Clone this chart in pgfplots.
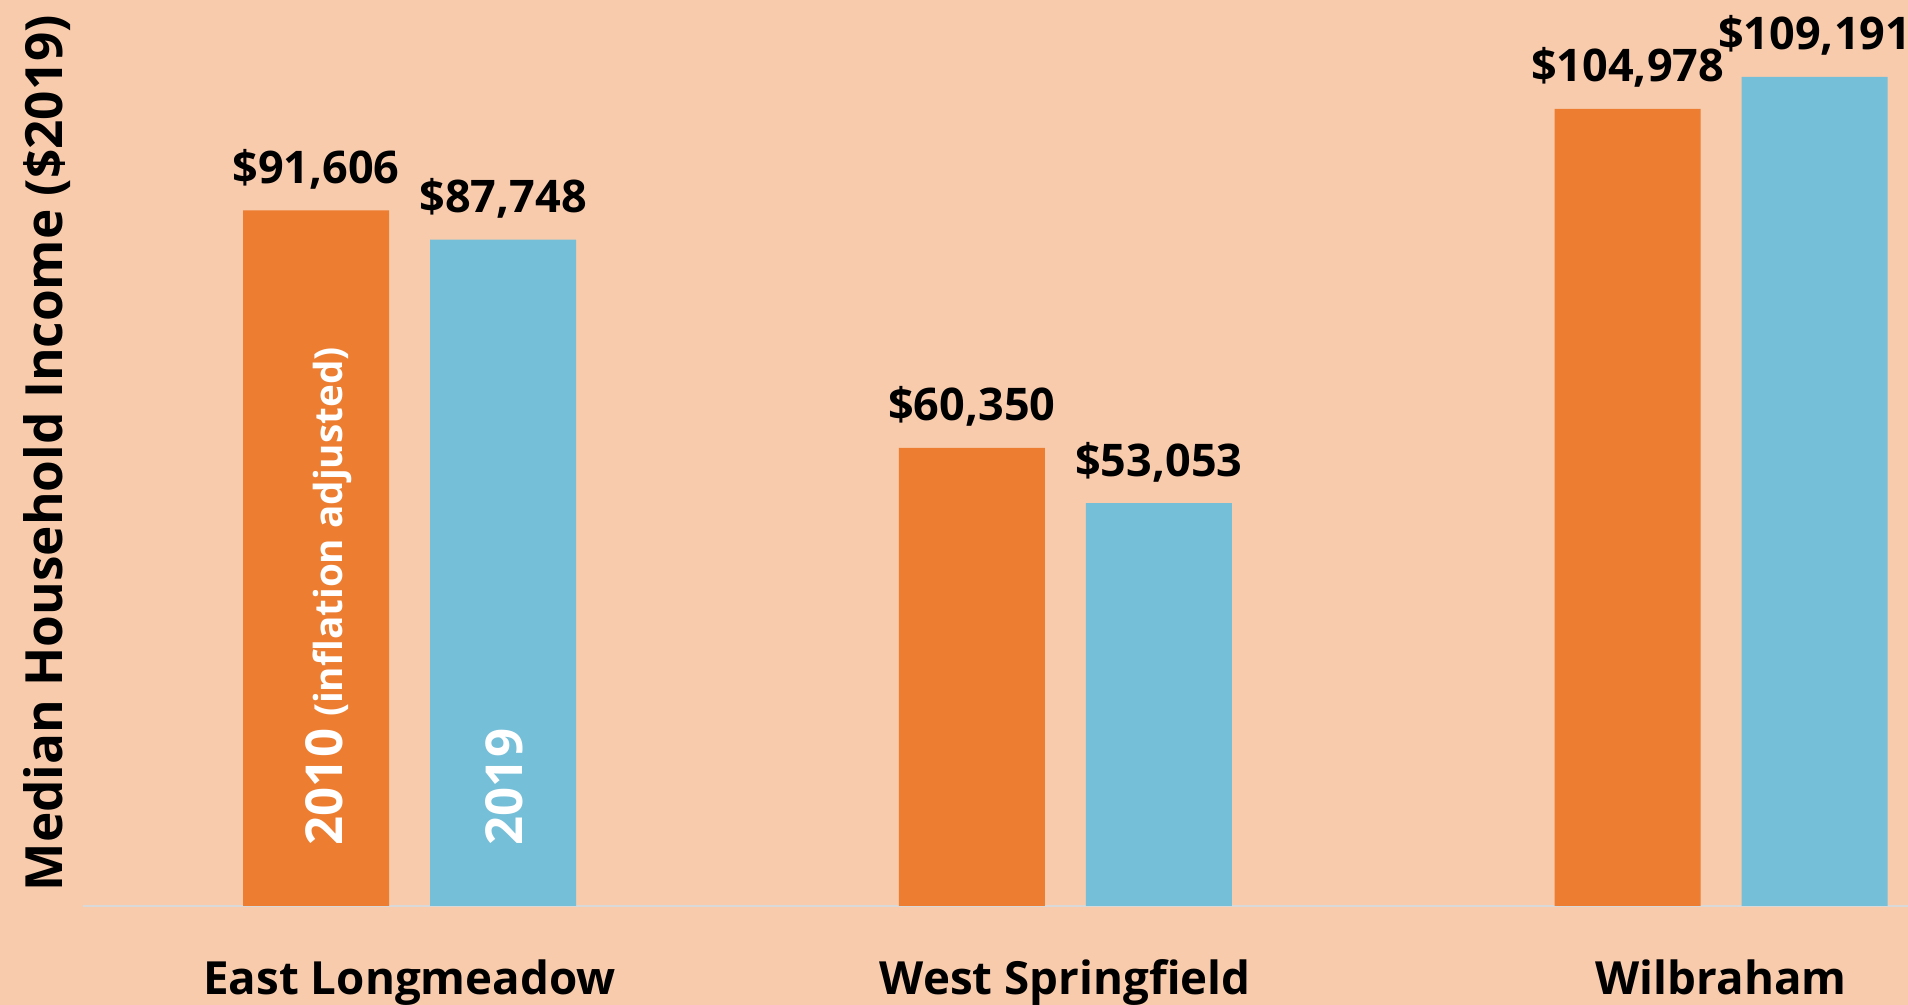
\documentclass[border=0pt]{standalone}
\usepackage{fontspec}
\setmainfont{Open Sans}
\usepackage{pgfplots}
\pgfplotsset{compat=1.18}
\definecolor{bgpeach}{RGB}{248,203,173}
\definecolor{barorange}{RGB}{237,125,49}
\definecolor{barblue}{RGB}{117,191,216}
\definecolor{axisgray}{RGB}{217,217,217}

\begin{document}
\begin{tikzpicture}
\fill[bgpeach, use as bounding box] (0,0) rectangle (190.8mm,100.5mm);
\begin{axis}[
  at={(8.3mm,9.9mm)}, anchor=south west,
  scale only axis, width=182.5mm, height=90.6mm,
  ybar=4.1mm, bar width=14.6mm,
  xmin=-0.498, xmax=2.285, ymin=0, ymax=119320,
  axis x line*=bottom, axis y line=none,
  x axis line style={axisgray, line width=0.8pt, -},
  xtick={0,1,2},
  xticklabels={East Longmeadow, West Springfield, Wilbraham},
  major tick length=0pt,
  xticklabel style={anchor=base, yshift=-8.9mm, inner sep=0pt,
    font=\bfseries\fontsize{13}{15}\selectfont},
  point meta=explicit symbolic,
  nodes near coords,
  nodes near coords style={anchor=base, yshift=2.7mm, inner sep=0pt,
    font=\bfseries\fontsize{12.8}{15}\selectfont, text=black},
  clip=false,
]
\addplot[fill=barorange, draw=none] coordinates {
  (0,91606) [\$91,606]
  (1,60350) [\$60,350]
  (2,104978) [\$104,978]
};
\addplot[fill=barblue, draw=none] coordinates {
  (0,87748) [\$87,748]
  (1,53053) [\$53,053]
  (2,109191) [\$109,191]
};
% axis title, set by hand to sit where the reference has it
\node[rotate=90, inner sep=0pt, font=\bfseries\fontsize{14.6}{16}\selectfont]
  at ([xshift=-3.6mm]rel axis cs:0,0.5) {Median Household Income (\$2019)};
% series names written inside the first pair of bars
\node[rotate=90, anchor=base west, inner sep=0pt, text=white, font=\bfseries]
  at ([xshift=-6.75mm, yshift=6mm]axis cs:0,0)
  {{\fontsize{14.5}{15}\selectfont 2010}\hspace{1.2mm}{\fontsize{11}{13}\selectfont (inflation adjusted)}};
\node[rotate=90, anchor=base west, inner sep=0pt, text=white, font=\bfseries\fontsize{14.5}{15}\selectfont]
  at ([xshift=11.25mm, yshift=6mm]axis cs:0,0) {2019};
\end{axis}
\end{tikzpicture}
\end{document}
